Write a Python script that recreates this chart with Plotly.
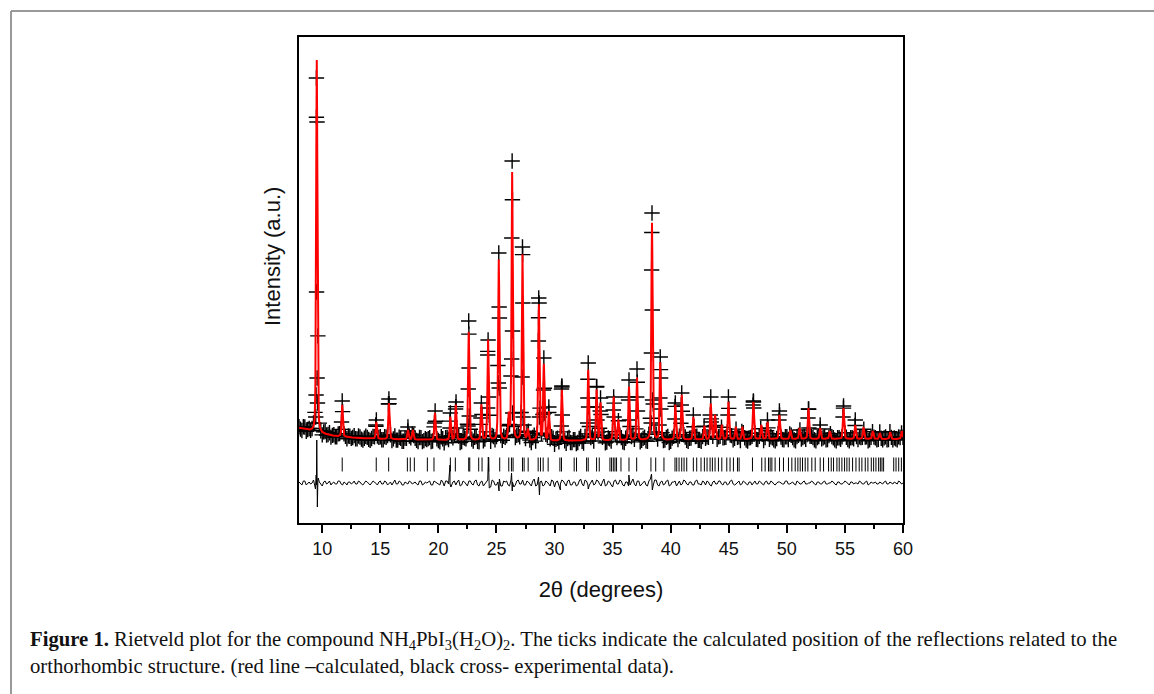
import numpy as np
import plotly.graph_objects as go

# ---------------- data ----------------
# background knots (2theta, intensity a.u.)
bg_x = [8, 9, 10, 11, 13, 15, 20, 30, 40, 50, 60]
bg_y = [95, 92, 89, 87, 85, 84, 83, 82, 83, 84, 84]

# calculated peak positions and peak-top intensities
peak_pos = [9.53, 11.72, 14.66, 15.74, 17.38, 17.8, 19.7, 21.03, 21.5, 22.61,
            23.7, 24.28, 25.2, 26.06, 26.35, 27.24, 27.7, 28.65, 29.08, 29.51,
            30.63, 32.9, 33.62, 33.96, 35.09, 35.49, 36.41, 37.1, 38.39, 39.1,
            40.4, 40.95, 41.95, 42.9, 43.45, 43.82, 44.4, 44.97, 45.6, 46.17,
            47.12, 47.8, 48.33, 49.36, 50.3, 51.1, 51.86, 52.87, 53.7, 54.88,
            55.89, 56.6, 57.4, 58.0, 58.9, 59.9]
peak_top = [463, 118, 101, 120, 93, 93, 110, 106, 118, 191,
            118, 183, 263, 107, 350, 268, 93, 218, 158, 111,
            133, 153, 133, 120, 126, 103, 136, 145, 300, 160,
            118, 128, 106, 97, 119, 108, 98, 121, 96, 96,
            121, 98, 101, 108, 93, 95, 115, 95, 92, 115,
            98, 96, 92, 90, 91, 92]

# experimental points visible on the peaks
obs_pk_x = [9.50, 9.55, 9.51, 9.56, 9.47, 9.59, 9.44,
            11.72, 11.66, 14.66, 14.61, 15.74, 15.70, 17.38,
            19.72, 19.67, 21.03, 21.0, 21.52, 21.48, 21.56,
            22.61, 22.64, 22.57, 22.66, 22.55, 23.7, 23.66,
            24.28, 24.25, 24.32, 24.24, 25.2, 25.23, 25.16, 25.24,
            26.35, 26.32, 26.38, 26.31, 26.40, 27.24, 27.27, 27.21, 27.29,
            28.64, 28.67, 28.61, 28.70, 29.08, 29.05, 29.12, 29.51,
            30.63, 30.60, 30.67, 30.58, 32.9, 32.87, 32.93, 32.85,
            33.62, 33.58, 33.66, 33.96, 33.93, 35.09, 35.06, 35.13,
            36.41, 36.38, 36.45, 37.1, 37.07, 37.14,
            38.39, 38.36, 38.42, 38.34, 38.44, 38.32,
            39.1, 39.13, 39.07, 39.15, 40.4, 40.36, 40.95, 40.91, 41.95,
            43.45, 43.41, 43.49, 44.97, 44.93, 47.12, 47.09, 47.15, 48.33,
            49.36, 49.32, 51.86, 51.82, 51.9, 52.87, 54.88, 54.84, 55.89]
obs_pk_y = [445, 401, 231, 145, 128, 120, 106,
            122, 101, 103, 98, 124, 119, 96,
            112, 100, 110, 95, 121, 114, 95,
            202, 155, 134, 107, 97, 120, 105,
            183, 168, 126, 115, 270, 216, 140, 135,
            362, 285, 192, 164, 110, 276, 220, 146, 106,
            225, 220, 182, 106, 165, 133, 110, 116,
            137, 134, 108, 97, 160, 125, 116, 100,
            136, 116, 103, 125, 112, 126, 113, 106,
            143, 126, 103, 154, 126, 112,
            310, 253, 213, 170, 123, 100,
            166, 145, 125, 114, 120, 104, 130, 118, 108,
            126, 108, 101, 126, 108, 122, 118, 115, 103,
            112, 103, 114, 105, 95, 98, 117, 106, 103]

# residual (obs - calc) read on a 0.25 deg grid from 8.0 to 60.0
diff_vals_a = [1, -2, 2, 0, -1, 3, -2, 1, -3, 2, 0, -2, 1, -1, 2, -2, 0, 1, -1, 2,
               -1, 1, -2, 2, -1, 0, 1, -2, 2, -1, 1, 0, -2, 3, -1, 1, -2, 0, 2, -1,
               1, -2, 2, -1, 0, 2, -2, 1, -1, 3, -3, 2, -1, 1, -2, 3, -2, 1, -3, 2,
               -2, 3, -3, 2, -1, 3, -4, 2, -2, 4, -3, 1, -2, 3, -4, 2, -1, 3, -2, 1,
               -3, 4, -2, 1, -3, 2, -1, 3, -4, 2, -1, 2, -3, 3, -2, 1, -2, 4, -3, 2,
               -2, 3, -1, 2, -3, 4, -2, 1, -4, 3, -1, 2, -3, 1, -2, 4, -3, 2, -1, 2,
               -3, 4, -2, 3, -3, 2, -1, 3, -2, 1, -3, 2, -1, 2, -2, 1, -2, 3, -1, 2,
               -2, 1, -3, 2, -1, 2, -2, 1, -1, 3, -2, 1, -2, 2, -1, 1, -2, 2, -1, 1,
               -2, 2, -1, 1, -2, 1, 0, -1, 2, -1, 1, -2, 1, -1, 2, -1, 0, 1, -2, 1,
               -1, 2, -1, 0, 1, -2, 1, -1, 2, -1, 1, -1, 0, 2, -1, 1, -2, 1, 0, -1,
               1, -1, 2, -1, 0, 1, -1, 1, 0]
# residual read at the half steps, 8.125 to 59.875
diff_vals_b = [-1, 2, -2, 1, 0, -2, 2, -1, 1, -1, 2, 0, -1, 2, -1, 1, -2, 1, 0, -1,
               2, -1, 0, 1, -2, 2, -1, 1, -1, 2, -2, 1, 0, -1, 2, -2, 1, -1, 1, 0,
               -1, 2, -2, 1, 1, -2, 2, 0, -2, 1, 2, -1, -2, 2, 1, -3, 2, -1, 2, -1,
               2, -2, 1, -3, 2, -1, 3, -2, 1, -3, 2, 2, -3, 1, -2, 3, -1, -2, 2, -1,
               2, -3, 1, 2, -2, 1, -3, 2, 1, -2, 3, -1, 2, -2, 1, -3, 2, -1, 3, -2,
               1, -2, 3, -1, 1, -3, 2, -2, 2, -1, 3, -2, 1, -3, 2, -1, 2, -3, 1, -2,
               2, -1, 3, -2, 1, -2, 2, -3, 1, 2, -1, -2, 3, -1, 1, -2, 2, -1, -2, 1,
               2, -2, 1, -1, 2, -1, 1, -2, 2, -1, -1, 2, -1, 1, -2, 1, 0, -1, 2, -1,
               1, -1, 2, -1, 0, 1, -1, 2, -1, 0, -1, 2, -1, 1, -1, 0, 2, -1, 1, -1,
               1, -1, 0, 2, -1, 1, -1, 0, 1, -2, 1, 0, -1, 1, -1, 2, -1, 0, 1, -1,
               0, 1, -1, 1, -1, 0, 2, -1]
# large residual features at strong reflections
diff_spike_x = [9.42, 9.48, 9.53, 9.58, 9.65, 21.0, 21.08, 24.3, 24.38, 25.22,
                26.3, 26.36, 28.62, 28.7, 30.5, 32.9, 36.4, 38.35, 38.42]
diff_spike_y = [-6, 8, 43, -24, 5, 18, -4, 26, -5, -8,
                10, -8, 6, -12, -7, -6, 8, 9, -7]

# calculated reflection positions (tick marks)
refl_pos = [11.72, 14.65, 15.72, 17.33, 17.58, 17.93, 19.05, 19.62, 21.03, 21.46,
            22.61, 22.7, 23.47, 23.76, 24.34, 25.28, 26.06, 26.29, 26.43, 27.24,
            27.38, 27.73, 28.59, 28.79, 29.02, 29.45, 30.46, 30.6, 31.69, 31.89,
            32.76, 32.9, 33.62, 33.85, 34.77, 34.91, 35.06, 35.2, 35.34, 35.72,
            36.41, 37.07, 38.3, 38.71, 39.42, 40.37, 40.52, 40.72, 40.95, 41.15,
            41.38, 41.95, 42.24, 42.61, 42.9, 43.13, 43.39, 43.59, 43.82, 44.11,
            44.4, 44.83, 45.11, 45.4, 45.75, 45.89, 47.04, 47.84, 48.13, 48.42,
            48.56, 48.71, 48.99, 49.37, 49.71, 50.14, 50.43, 50.72, 50.95, 51.15,
            51.35, 51.58, 51.81, 52.15, 52.44, 52.87, 53.16, 53.59, 53.82, 54.02,
            54.31, 54.51, 54.74, 54.97, 55.17, 55.37, 55.66, 55.95, 56.23, 56.46,
            56.75, 56.98, 57.27, 57.47, 57.67, 57.9, 58.05, 58.19, 58.33, 59.2,
            59.4, 59.63, 59.86]

x_ticks = [10, 15, 20, 25, 30, 35, 40, 45, 50, 55, 60]

# ---------------- profile model ----------------
FWHM = 0.13
ETA = 0.3
TICK_LEVEL = 58.5
DIFF_LEVEL = 40


def calc_profile(x):
    x = np.asarray(x, dtype=float)
    y = np.interp(x, bg_x, bg_y)
    for p, t in zip(peak_pos, peak_top):
        amp = t - np.interp(p, bg_x, bg_y)
        u = (x - p) / FWHM
        y = y + amp * (ETA / (1 + 4 * u ** 2) + (1 - ETA) * np.exp(-4 * np.log(2) * u ** 2))
    return y


x_fine = np.arange(8.0, 60.0005, 0.01)
y_calc = calc_profile(x_fine)

grid_a = np.arange(8.0, 60.0001, 0.25)
grid_b = np.arange(8.125, 59.876, 0.25)
assert len(grid_a) == len(diff_vals_a) and len(grid_b) == len(diff_vals_b)
grid_x = np.concatenate([grid_a, grid_b])
diff_all = np.concatenate([np.array(diff_vals_a, float), np.array(diff_vals_b, float)])
obs_base_y = calc_profile(grid_x) + diff_all

d_x = np.concatenate([grid_x, diff_spike_x])
d_y = np.concatenate([diff_all, diff_spike_y])
order = np.argsort(d_x)
d_x, d_y = d_x[order], d_y[order] + DIFF_LEVEL

obs_x = np.concatenate([grid_x, obs_pk_x])
obs_y = np.concatenate([obs_base_y, obs_pk_y])

# ---------------- figure ----------------
fig = go.Figure()
cross = dict(symbol="cross-thin-open", size=11, color="black",
             line=dict(color="black", width=1.4))
fig.add_trace(go.Scatter(x=obs_x, y=obs_y, mode="markers", marker=cross,
                         hoverinfo="skip"))
fig.add_trace(go.Scatter(x=x_fine, y=y_calc, mode="lines",
                         line=dict(color="#ff0000", width=2), hoverinfo="skip"))
fig.add_trace(go.Scatter(x=refl_pos, y=[TICK_LEVEL] * len(refl_pos), mode="markers",
                         marker=dict(symbol="line-ns-open", size=10, color="black",
                                     line=dict(color="black", width=1)),
                         hoverinfo="skip"))
fig.add_trace(go.Scatter(x=d_x, y=d_y, mode="lines",
                         line=dict(color="black", width=1), hoverinfo="skip"))

L, R, T, B = 299, 903, 37, 523
W, H = 1154, 694
pw, ph = R - L, B - T


def px(xp):
    return (xp - L) / pw


def py(yp):
    return (B - yp) / ph


fig.update_layout(
    width=W, height=H,
    margin=dict(l=L, r=W - R, t=T, b=H - B, pad=0),
    paper_bgcolor="white", plot_bgcolor="white",
    showlegend=False,
    font=dict(family="Liberation Sans, Arial", color="#111"),
    xaxis=dict(range=[8, 60], tickvals=x_ticks, ticks="outside", ticklen=8,
               tickwidth=1.5, tickcolor="black", showgrid=False, zeroline=False,
               showline=True, linecolor="black", linewidth=2, mirror=True,
               tickfont=dict(size=18, family="Liberation Sans, Arial", color="#111"),
               minor=dict(dtick=2.5, tick0=7.5, ticks="outside", ticklen=4,
                          tickwidth=1.5, tickcolor="black"),
               title=dict(text="2θ (degrees)", standoff=24,
                          font=dict(size=22, family="Liberation Sans, Arial", color="#111"))),
    yaxis=dict(range=[0, 486], showticklabels=False, ticks="", showgrid=False,
               zeroline=False, showline=True, linecolor="black", linewidth=2,
               mirror=True),
)

fig.add_annotation(text="Intensity (a.u.)", textangle=-90, x=px(272), y=py(257),
                   xref="paper", yref="paper", showarrow=False,
                   xanchor="center", yanchor="middle",
                   font=dict(size=22, family="Liberation Sans, Arial", color="#111"))

cap_font = dict(size=20.7, family="Liberation Serif, Times New Roman", color="#111")
fig.add_annotation(
    text="<b>Figure 1.</b> Rietveld plot for the compound NH<sub>4</sub>PbI<sub>3</sub>(H<sub>2</sub>O)<sub>2</sub>. "
         "The ticks indicate the calculated position of the reflections related to the",
    x=px(28), y=py(640), xref="paper", yref="paper", showarrow=False,
    xanchor="left", yanchor="middle", font=cap_font)
fig.add_annotation(
    text="orthorhombic structure. (red line \u2013calculated, black cross- experimental data).",
    x=px(28), y=py(666), xref="paper", yref="paper", showarrow=False,
    xanchor="left", yanchor="middle", font=cap_font)

# outer figure frame (top and left edges visible)
fig.add_shape(type="line", xref="paper", yref="paper", x0=px(11), x1=px(1160),
              y0=py(11), y1=py(11), line=dict(color="#999999", width=2))
fig.add_shape(type="line", xref="paper", yref="paper", x0=px(11), x1=px(11),
              y0=py(11), y1=py(700), line=dict(color="#999999", width=2))

fig.write_html("out.html", config={"displayModeBar": False},
               post_script="document.body.style.margin='0';document.body.style.overflow='hidden';")
